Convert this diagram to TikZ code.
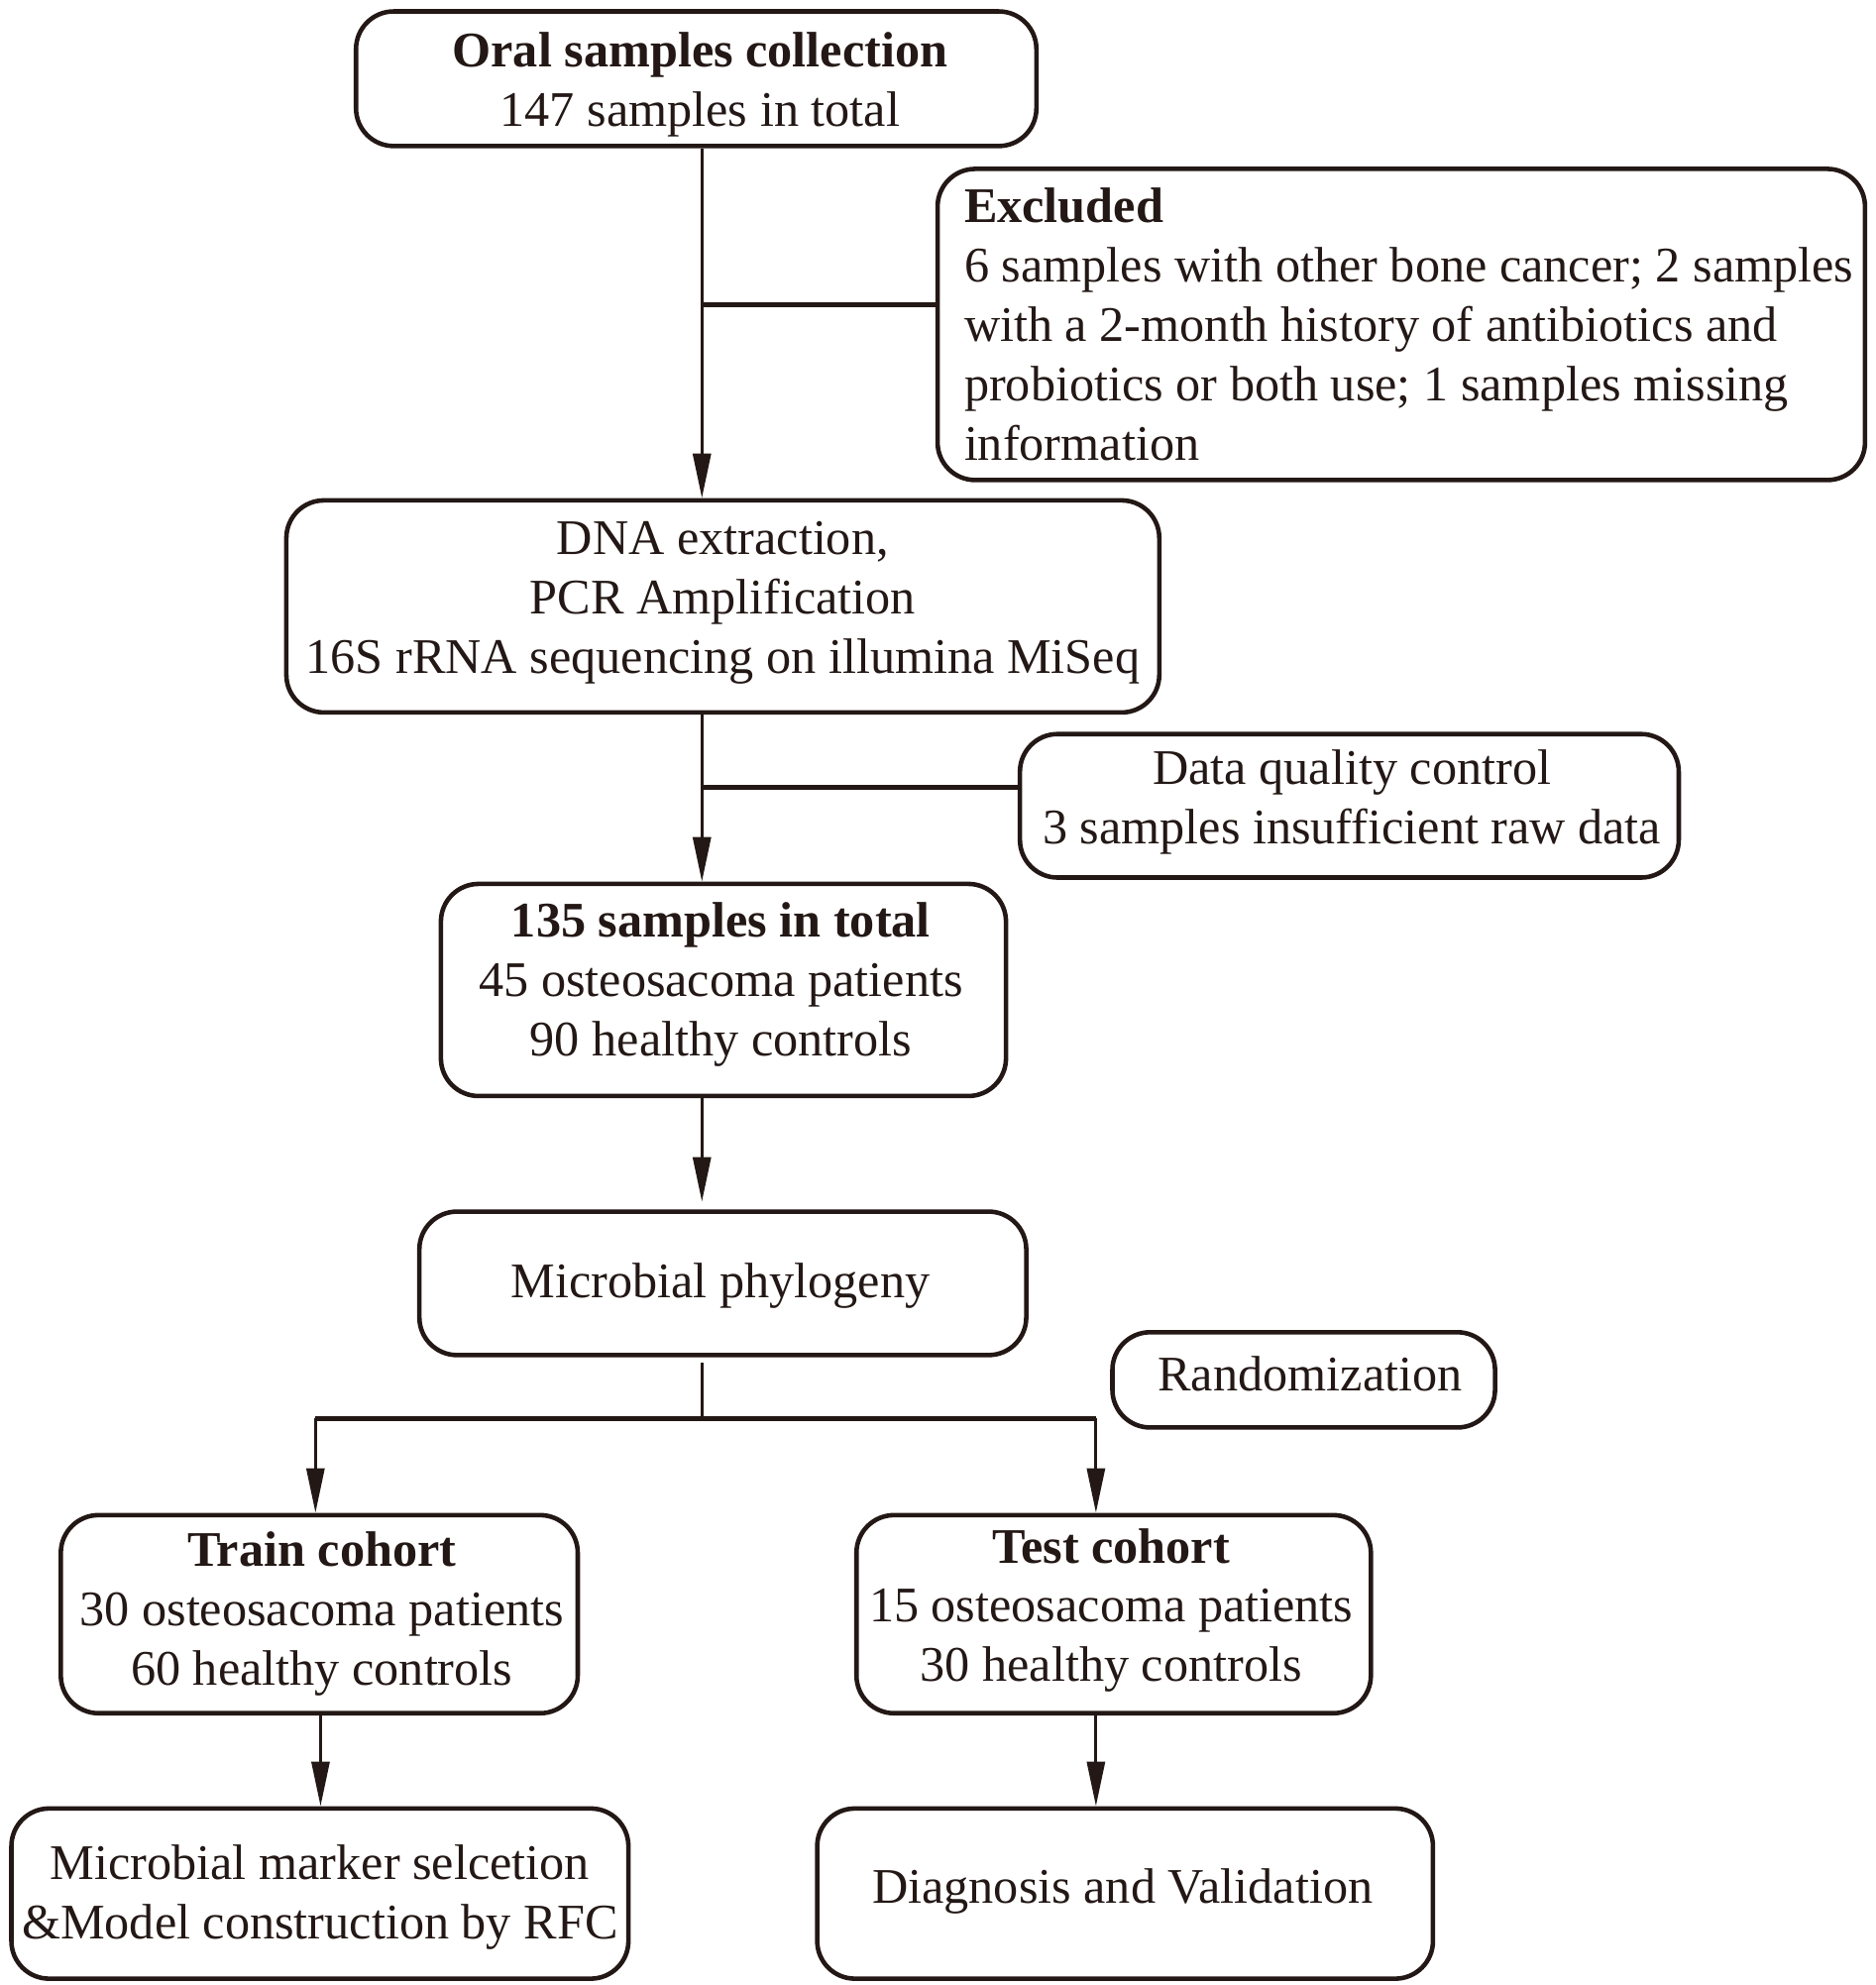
\documentclass[tikz,border=0pt]{standalone}
\usepackage{fontspec}
\setmainfont{Liberation Serif}
\usetikzlibrary{fit,arrows.meta,calc}
\definecolor{ink}{HTML}{231815}
\begin{document}
\begin{tikzpicture}[x=0.012784cm,y=-0.012815cm,
  box/.style={draw=ink,line width=1.3pt,rounded corners=0.38cm,inner sep=0pt},
  txt/.style={align=center,text=ink,inner sep=0pt,font=\fontsize{14.3pt}{17.07pt}\selectfont},
  conn/.style={draw=ink,line width=0.9pt},
  arr/.style={conn,-{Triangle[length=4.5mm,width=1.8mm]}},
  hbar/.style={draw=ink,line width=1.4pt}]
\useasboundingbox (0,0) rectangle (1480,1563);
\node[box,fit={(281,9) (818,115)}] (oral) {};
\node[txt] (oralT) at ($(oral.center)+(3,5)$) {\textbf{Oral samples collection}\\147 samples in total};
\node[box,fit={(740,133) (1472,378)}] (excl) {};
\node[txt,align=left] (exclT) at ($(excl.center)+(6,0)$) {\textbf{Excluded}\\6 samples with other bone cancer; 2 samples\\with a 2-month history of antibiotics and\\probiotics or both use; 1 samples missing\\information};
\node[box,fit={(226,394) (915,561)}] (dna) {};
\node[txt] (dnaT) at ($(dna.center)+(0,-3)$) {DNA extraction,\\PCR Amplification\\16S rRNA sequencing on illumina MiSeq};
\node[box,fit={(805,578) (1325,691)}] (qc) {};
\node[txt] (qcT) at ($(qc.center)+(2,-3)$) {Data quality control\\3 samples insufficient raw data};
\node[box,fit={(348,696) (794,863)}] (tot) {};
\node[txt] (totT) at ($(tot.center)+(-2,-4)$) {\textbf{135 samples in total}\\45 osteosacoma patients\\90 healthy controls};
\node[box,fit={(331,954) (810,1067)}] (phylo) {};
\node[txt] (phyloT) at ($(phylo.center)+(-2,2)$) {Microbial phylogeny};
\node[box,fit={(878,1049) (1180,1124)}] (rand) {};
\node[txt] (randT) at ($(rand.center)+(5,-5)$) {Randomization};
\node[box,fit={(48,1193) (456,1349)}] (train) {};
\node[txt] (trainT) at ($(train.center)+(2,0)$) {\textbf{Train cohort}\\30 osteosacoma patients\\60 healthy controls};
\node[box,fit={(676,1193) (1082,1349)}] (test) {};
\node[txt] (testT) at ($(test.center)+(-2,-3)$) {\textbf{Test cohort}\\15 osteosacoma patients\\30 healthy controls};
\node[box,fit={(9,1424) (496,1558)}] (marker) {};
\node[txt] (markerT) at ($(marker.center)+(0,3)$) {Microbial marker selcetion\\\&Model construction by RFC};
\node[box,fit={(645,1424) (1131,1558)}] (diag) {};
\node[txt] (diagT) at ($(diag.center)+(-2,-2)$) {Diagnosis and Validation};
\coordinate (m) at (554,0);
\coordinate (b1) at (554,240);
\coordinate (b2) at (554,620);
\coordinate (s) at (554,1117);
\coordinate (sl) at (249,1117);
\coordinate (sr) at (865,1117);
\coordinate (tl) at (253,0);
\draw[arr] (oral.south -| m) -- (dna.north -| m);
\draw[hbar] (b1) -- (excl.west |- b1);
\draw[arr] (dna.south -| m) -- (tot.north -| m);
\draw[hbar] (b2) -- (qc.west |- b2);
\draw[arr] (tot.south -| m) -- ($(phylo.north -| m)+(0,-6)$);
\draw[conn] ($(phylo.south -| m)+(0,4)$) -- (s);
\draw[hbar] (sl) -- (sr);
\draw[arr] (sl) -- (train.north -| sl);
\draw[arr] (sr) -- (test.north -| sr);
\draw[arr] (train.south -| tl) -- (marker.north -| tl);
\draw[arr] (test.south -| sr) -- (diag.north -| sr);
\end{tikzpicture}
\end{document}
